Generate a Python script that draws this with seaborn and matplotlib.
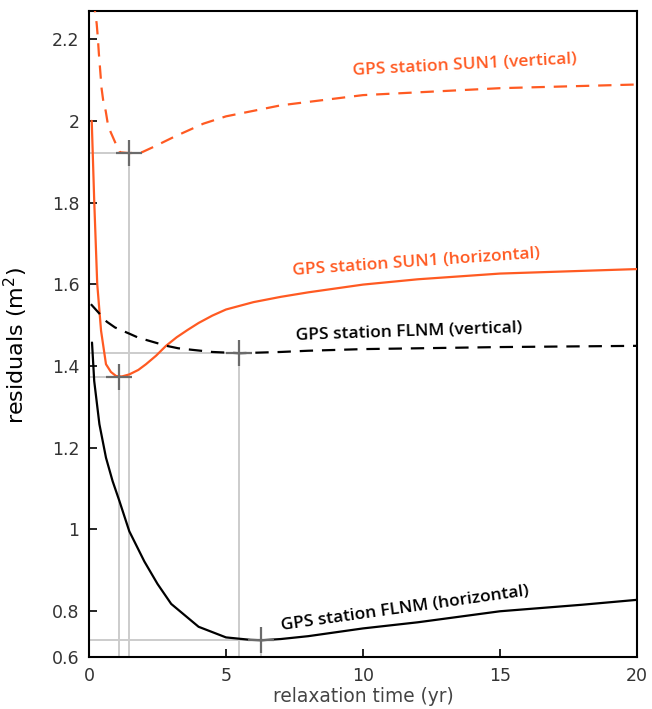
import numpy as np
import pandas as pd
import matplotlib
matplotlib.use("Agg")
import matplotlib.pyplot as plt
import seaborn as sns

# residual curves (x: relaxation time in yr, y: residuals in m^2)
sun1_vert_t = [0.18, 0.22, 0.28, 0.32, 0.36, 0.40, 0.46, 0.52, 0.61, 0.70, 0.80, 0.97, 1.13, 1.47,
               1.93, 2.35, 3.08, 4.17, 5.0, 7.0, 10.0, 15.0, 20.0]
sun1_vert_r = [2.32, 2.267, 2.238, 2.206, 2.165, 2.131, 2.079, 2.049, 2.024, 1.987, 1.971, 1.945, 1.923, 1.921,
               1.923, 1.936, 1.960, 1.993, 2.011, 2.038, 2.063, 2.080, 2.089]

sun1_horiz_t = [0.10, 0.19, 0.30, 0.44, 0.62, 0.80, 0.99, 1.2, 1.47, 1.8, 2.08, 2.45, 2.81, 3.2, 3.6, 4.0,
                4.5, 5.0, 6.0, 7.0, 8.0, 10.0, 12.0, 15.0, 20.0]
sun1_horiz_r = [2.000, 1.805, 1.601, 1.486, 1.404, 1.385, 1.375, 1.374, 1.379, 1.390, 1.404, 1.425, 1.449, 1.470,
                1.488, 1.505, 1.523, 1.538, 1.556, 1.569, 1.580, 1.599, 1.612, 1.626, 1.637]

flnm_vert_t = [0.07, 0.65, 0.95, 1.5, 1.8, 2.83, 3.26, 3.8, 4.5, 5.49, 7.0, 8.0, 10.0, 15.0, 20.0]
flnm_vert_r = [1.551, 1.508, 1.494, 1.478, 1.469, 1.449, 1.443, 1.439, 1.434, 1.431, 1.434, 1.437, 1.441, 1.446, 1.449]

flnm_horiz_t = [0.11, 0.19, 0.38, 0.62, 0.86, 1.11, 1.47, 2.02, 2.5, 3.0, 4.0, 5.0, 5.9, 6.3, 7.0, 8.0,
                10.0, 12.0, 15.0, 18.0, 20.0]
flnm_horiz_r = [1.457, 1.363, 1.257, 1.175, 1.118, 1.069, 0.995, 0.921, 0.866, 0.817, 0.761, 0.735, 0.729, 0.728,
                0.731, 0.738, 0.757, 0.772, 0.799, 0.815, 0.827]

# best-fit minima (crosses)
min_t = [1.47, 1.09, 5.49, 6.28]
min_r = [1.921, 1.373, 1.431, 0.728]

labels = ["GPS station SUN1 (vertical)", "GPS station SUN1 (horizontal)",
          "GPS station FLNM (vertical)", "GPS station FLNM (horizontal)"]
label_t = [13.72, 11.93, 11.68, 11.53]
label_r = [2.136, 1.653, 1.483, 0.806]
label_rot = [3, 4, 2, 8]

xtick_vals = [0, 5, 10, 15, 20]
y_bottom, y_top = 0.687, 2.269
ytick_vals = [y_bottom, 0.8, 1.0, 1.2, 1.4, 1.6, 1.8, 2.0, 2.2]
ytick_labels = ["0.6", "0.8", "1", "1.2", "1.4", "1.6", "1.8", "2", "2.2"]

ORANGE = "#ff5a22"
GREY_LINE = "#cccccc"
CROSS = "#6b6b6b"

sns.set_style("white")
plt.rcParams["font.family"] = ["DejaVu Sans"]

fig = plt.figure(figsize=(6.52, 7.09), dpi=100)
ax = fig.add_axes([89 / 652, 1 - 657 / 709, (637 - 89) / 652, (657 - 11) / 709])

# guide lines from the axes to each minimum
for t, r in zip(min_t, min_r):
    ax.plot([0, t], [r, r], color=GREY_LINE, lw=1.4, zorder=1)
    ax.plot([t, t], [y_bottom, r], color=GREY_LINE, lw=1.4, zorder=1)

series = [
    (sun1_vert_t, sun1_vert_r, ORANGE, "--"),
    (sun1_horiz_t, sun1_horiz_r, ORANGE, "-"),
    (flnm_vert_t, flnm_vert_r, "black", "--"),
    (flnm_horiz_t, flnm_horiz_r, "black", "-"),
]
for t, r, c, ls in series:
    df = pd.DataFrame({"t": t, "r": r})
    sns.lineplot(data=df, x="t", y="r", ax=ax, color=c, lw=1.6,
                 sort=False, estimator=None, zorder=3)
    if ls == "--":
        ax.lines[-1].set_dashes((6, 4))

sns.scatterplot(x=min_t, y=min_r, ax=ax, marker="+", s=330, color=CROSS,
                linewidth=1.6, zorder=4)

for txt, t, r, rot, c in zip(labels, label_t, label_r, label_rot,
                             [ORANGE, ORANGE, "black", "black"]):
    ax.text(t, r, txt, color=c, rotation=rot, rotation_mode="anchor",
            ha="center", va="center", fontsize=12.5, fontweight="semibold",
            family=["Open Sans", "DejaVu Sans"], zorder=5)

ax.set_xlim(0, 20)
ax.set_ylim(y_bottom, y_top)
ax.set_xticks(xtick_vals)
ax.set_yticks(ytick_vals)
ax.set_yticklabels(ytick_labels)
ax.tick_params(direction="in", length=6, width=1.2, colors="black",
               labelcolor="#333333", labelsize=12.5, pad=7,
               bottom=True, left=True, top=False, right=False)
ax.set_xlabel("relaxation time (yr)", fontsize=13.4, color="#444444", labelpad=2)
ax.set_ylabel("residuals (m$^2$)", fontsize=16, color="black")
ax.yaxis.set_label_coords(-0.108, 0.483)
for sp in ax.spines.values():
    sp.set_color("black")
    sp.set_linewidth(1.5)

fig.savefig("out.png", dpi=100)
